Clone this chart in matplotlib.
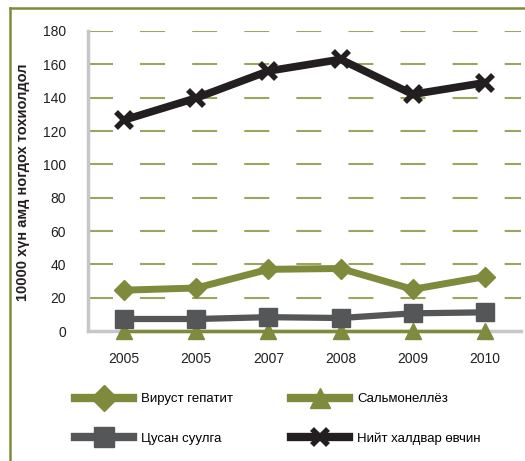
import matplotlib
matplotlib.use("Agg")
from matplotlib import pyplot as plt
from matplotlib.lines import Line2D

plt.rcParams['font.family'] = ['Liberation Sans', 'DejaVu Sans']

years = ["2005", "2005", "2007", "2008", "2009", "2010"]
hepatitis = [24.5, 25.8, 37.0, 37.5, 25.0, 32.6]
salmonella = [0, 0, 0, 0, 0, 0]
dysentery = [7.2, 7.2, 8.3, 7.8, 10.6, 11.2]
total = [126.6, 139.8, 156.0, 163.0, 142.0, 149.0]

labels = ["Вируст гепатит", "Сальмонеллёз", "Цусан суулга", "Нийт халдвар өвчин"]

OLIVE = "#7f8a3c"
GRID = "#9ca55e"
DGRAY = "#555658"
BLACK = "#231f20"
AXGRAY = "#c6c7c9"

W, H = 525, 461
fig = plt.figure(figsize=(W / 100, H / 100), dpi=100)

# olive frame (only top and left edges are visible in the crop)
fig.add_artist(Line2D([10 / W, 10 / W], [0, 1 - 8 / H], color=OLIVE, lw=1.8))
fig.add_artist(Line2D([10 / W, 1], [1 - 8 / H, 1 - 8 / H], color=OLIVE, lw=1.8))

ax = fig.add_axes([88 / W, 1 - 331 / H, (521 - 88) / W, 300 / H])
x = list(range(len(years)))

for y in range(20, 181, 20):
    ax.axhline(y, color=GRID, lw=1.5, dashes=(12, 13), zorder=1)

ax.plot(x, salmonella, color=OLIVE, lw=2.5, marker="^", ms=11, zorder=4, clip_on=False)
ax.plot(x, dysentery, color=DGRAY, lw=4.5, marker="s", ms=13, zorder=5, clip_on=False)
ax.plot(x, hepatitis, color=OLIVE, lw=5, marker="D", ms=10, zorder=5, clip_on=False)
ax.plot(x, total, color=BLACK, lw=5.5, marker="x", ms=12, mew=4, zorder=6, clip_on=False)

ax.set_xlim(-0.5, 5.5)
ax.set_ylim(0, 180)
ax.set_yticks(range(0, 181, 20))
ax.set_xticks(x)
ax.set_xticklabels(years)
ax.tick_params(axis="both", length=0, labelsize=10, colors="#231f20")
ax.tick_params(axis="x", pad=15)
ax.tick_params(axis="y", pad=16)

for s in ["top", "right"]:
    ax.spines[s].set_visible(False)
for s in ["left", "bottom"]:
    ax.spines[s].set_color(AXGRAY)
    ax.spines[s].set_linewidth(2.5)
    ax.spines[s].set_zorder(3)

fig.text(23 / W, 1 - 182 / H, "10000 хүн амд ногдох тохиолдол", rotation=90,
         ha="center", va="center", fontsize=10.5, fontweight="bold", color="#231f20")

h_hep = Line2D([], [], color=OLIVE, lw=6, marker="D", ms=13)
h_sal = Line2D([], [], color=OLIVE, lw=6, marker="^", ms=15)
h_dys = Line2D([], [], color=DGRAY, lw=6, marker="s", ms=14)
h_tot = Line2D([], [], color=BLACK, lw=6, marker="x", ms=12, mew=4)
# column-major fill, so order gives rows: hepatitis/salmonella, dysentery/total
fig.legend([h_hep, h_dys, h_sal, h_tot], [labels[0], labels[2], labels[1], labels[3]],
           ncol=2, loc="upper left", bbox_to_anchor=(75 / W, 1 - 393 / H),
           frameon=False, fontsize=9.5, handlelength=4.4, handletextpad=0.6,
           columnspacing=4.4, labelspacing=2.05, borderpad=0, borderaxespad=0)

fig.savefig("out.png", dpi=100)
